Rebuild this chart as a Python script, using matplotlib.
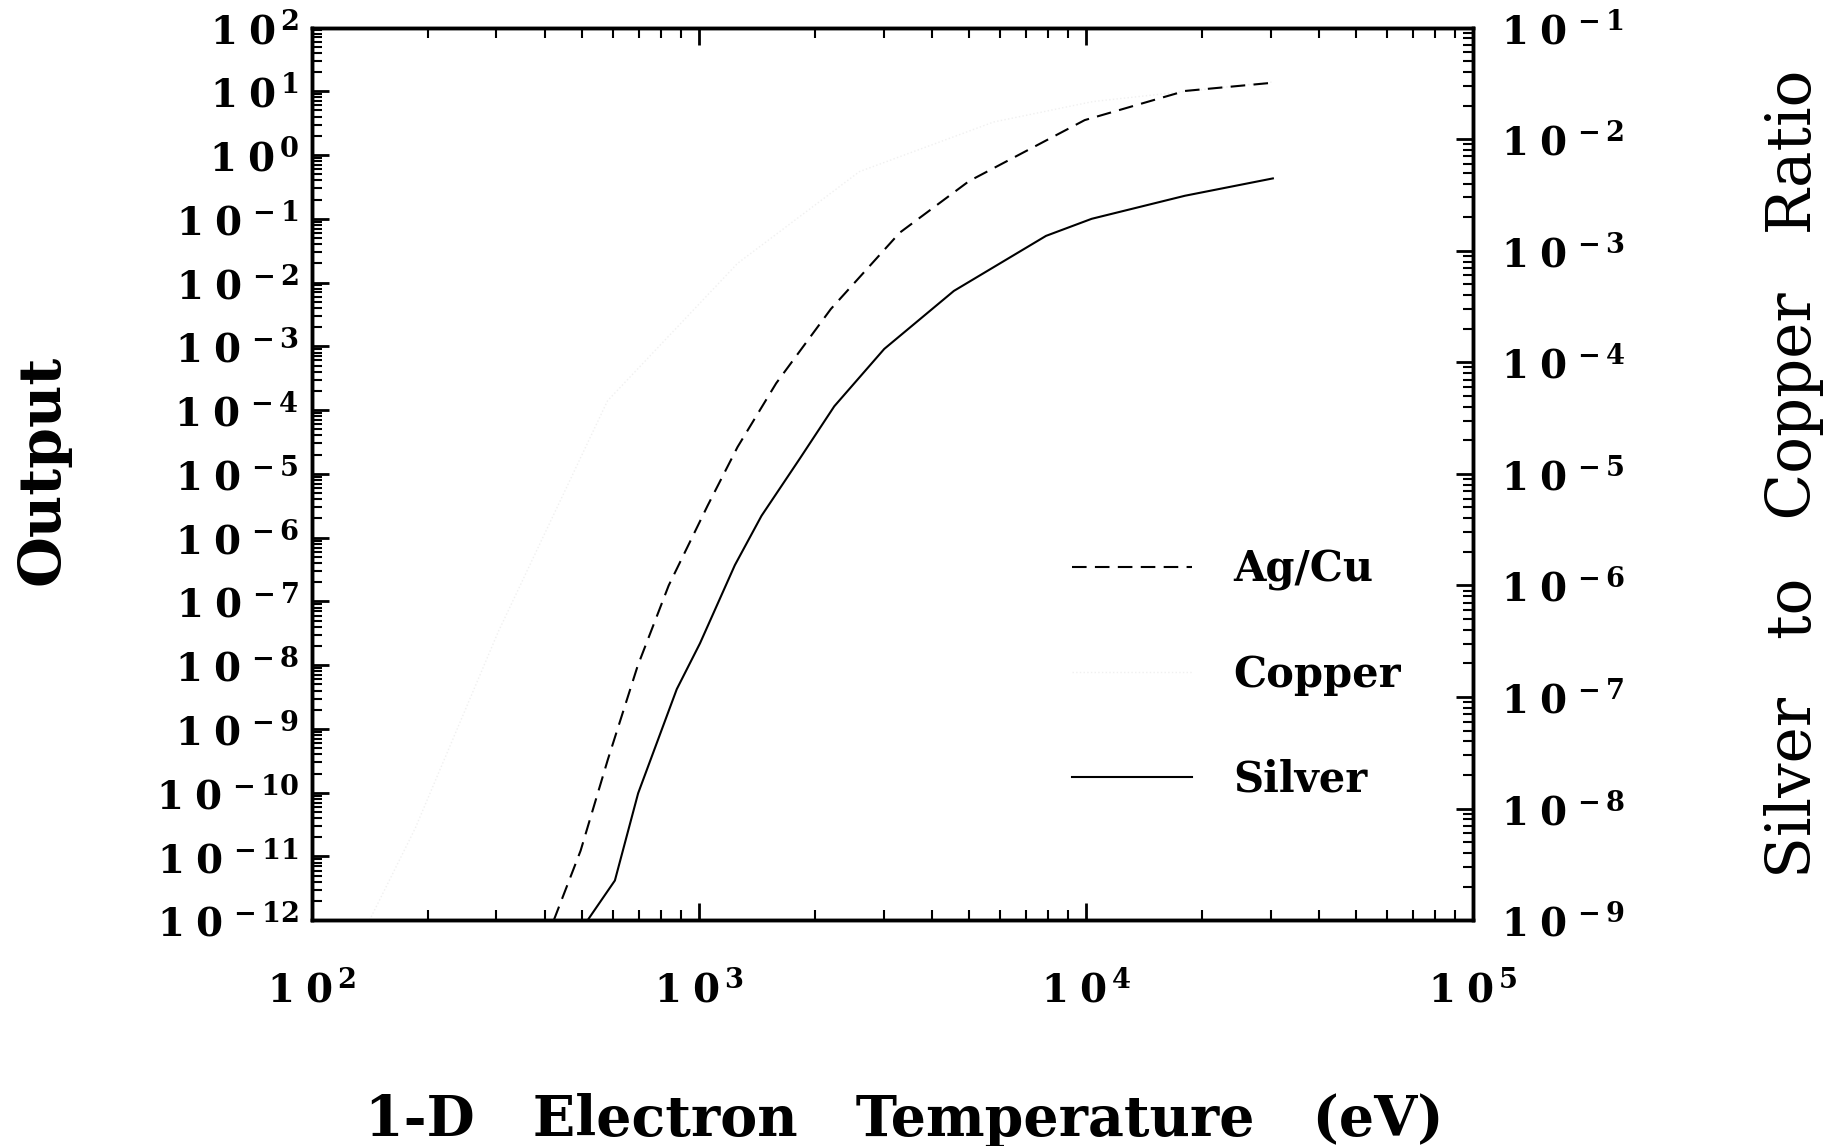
import matplotlib
matplotlib.use("Agg")
import matplotlib.pyplot as plt
import numpy as np
from matplotlib.ticker import LogLocator, FuncFormatter, NullFormatter

plt.rcParams['font.family'] = ['DejaVu Serif']
plt.rcParams['font.weight'] = 'bold'
plt.rcParams['axes.labelweight'] = 'bold'
plt.rcParams['mathtext.fontset'] = 'custom'
plt.rcParams['mathtext.rm'] = 'DejaVu Serif:bold'
plt.rcParams['mathtext.it'] = 'DejaVu Serif:italic:bold'
plt.rcParams['mathtext.bf'] = 'DejaVu Serif:bold'

# values
agcu_temp = [422, 495, 582, 695, 836, 1054, 1259, 1585, 2193, 3304, 4989, 9931, 18030, 30410]
agcu_ratio = [1.0e-9, 4.2e-9, 2.75e-8, 1.9e-7, 1.0e-6, 5.2e-6, 1.74e-5, 6.5e-5,
              3.0e-4, 1.45e-3, 4.2e-3, 1.48e-2, 2.7e-2, 3.2e-2]

silver_temp = [516, 607, 697, 877, 1007, 1239, 1452, 1824, 2239, 3013, 4560, 7889,
               10350, 18030, 30410]
silver_out = [1e-12, 4.2e-12, 9.8e-11, 4.2e-9, 2.2e-8, 3.7e-7, 2.2e-6, 1.74e-5,
              1.15e-4, 9.1e-4, 7.4e-3, 5.4e-2, 0.1, 0.23, 0.43]

copper_temp = [141, 185, 303, 581, 1259, 2600, 5780, 10430, 30410]
copper_out = [1e-12, 2.75e-11, 3.3e-8, 1.4e-4, 2.0e-2, 0.55, 3.3, 6.9, 14]

x_label = "1-D   Electron   Temperature   (eV)"
left_label = "Output"
right_label = "Silver   to   Copper   Ratio"


def pow_label(v, pos):
    e = int(round(np.log10(v)))
    return r"$\mathregular{1\;0^{\,%d}}$" % e


fig = plt.figure(figsize=(18.23, 11.46), dpi=100)
ax = fig.add_axes([0.171, 0.197, 0.637, 0.779])
ax2 = ax.twinx()

l_cu, = ax.plot(copper_temp, copper_out, color='#f0f0f0', lw=1.0, ls=':', label='Copper')
l_ag, = ax.plot(silver_temp, silver_out, color='black', lw=1.5, label='Silver')
l_ratio, = ax2.plot(agcu_temp, agcu_ratio, color='black', lw=1.5, ls=(0, (7, 4)),
                    label='Ag/Cu')

ax.set_xscale('log')
ax.set_yscale('log')
ax2.set_yscale('log')
ax.set_xlim(1e2, 1e5)
ax.set_ylim(1e-12, 1e2)
ax2.set_ylim(1e-9, 1e-1)

for a in (ax, ax2):
    a.yaxis.set_major_locator(LogLocator(base=10, numticks=30))
    a.yaxis.set_minor_locator(LogLocator(base=10, subs=np.arange(2, 10), numticks=30))
    a.yaxis.set_minor_formatter(NullFormatter())
    a.yaxis.set_major_formatter(FuncFormatter(pow_label))
ax.xaxis.set_major_locator(LogLocator(base=10, numticks=10))
ax.xaxis.set_minor_locator(LogLocator(base=10, subs=np.arange(2, 10), numticks=10))
ax.xaxis.set_minor_formatter(NullFormatter())
ax.xaxis.set_major_formatter(FuncFormatter(pow_label))

ax.tick_params(axis='x', which='both', direction='in', top=True, labelsize=28, pad=36)
ax.tick_params(axis='x', which='major', length=12, width=2)
ax.tick_params(axis='x', which='minor', length=7, width=1.5)
ax.tick_params(axis='y', which='major', direction='in', length=12, width=2,
               labelsize=28, pad=9)
ax.tick_params(axis='y', which='minor', direction='in', length=7, width=1.5)
ax2.tick_params(axis='y', which='major', direction='in', length=12, width=2,
                labelsize=28, pad=20)
ax2.tick_params(axis='y', which='minor', direction='in', length=7, width=1.5)

for a in (ax, ax2):
    for s in a.spines.values():
        s.set_linewidth(2.5)

ax.set_xlabel(x_label, fontsize=40)
ax.xaxis.set_label_coords(0.51, -0.193)
ax.set_ylabel(left_label, fontsize=42)
ax.yaxis.set_label_coords(-0.208, 0.505)
ax2.set_ylabel(right_label, fontsize=44, fontweight='normal')
ax2.yaxis.set_label_coords(1.251, 0.5)

leg = ax2.legend([l_ratio, l_cu, l_ag], ['Ag/Cu', 'Copper', 'Silver'],
                 loc='center left', bbox_to_anchor=(0.655, 0.275), frameon=False,
                 fontsize=30, handlelength=2.88, handletextpad=0.98, labelspacing=1.5,
                 borderpad=0, borderaxespad=0)

fig.savefig('out.png', dpi=100)
